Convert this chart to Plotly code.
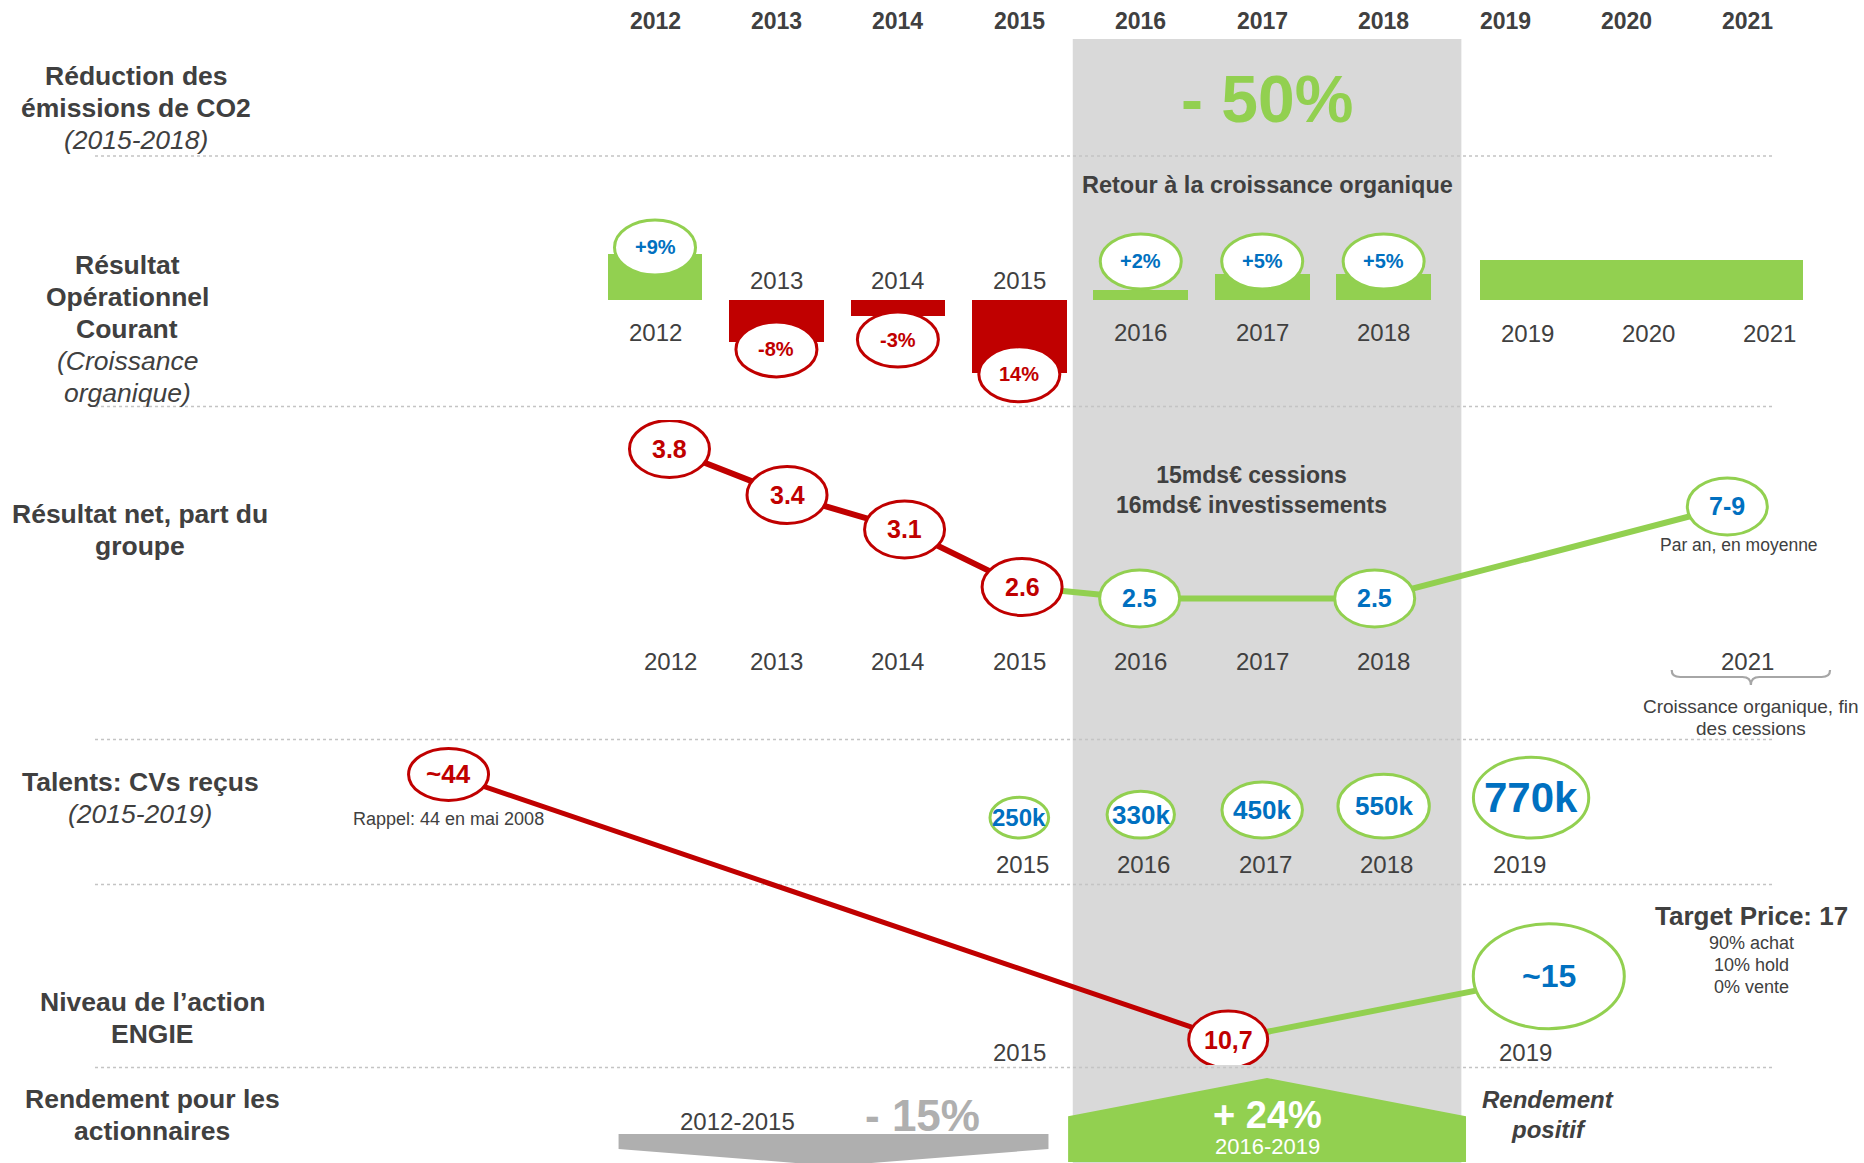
import math
import plotly.graph_objects as go

# ------------------------------------------------------------------ data
HEADER_YEARS = [2012, 2013, 2014, 2015, 2016, 2017, 2018, 2019, 2020, 2021]

CO2_REDUCTION_LABEL = "- 50%"
CO2_NOTE = "Retour à la croissance organique"

ROC_YEARS = [2012, 2013, 2014, 2015, 2016, 2017, 2018]
ROC_GROWTH = [9, -8, -3, -14, 2, 5, 5]
ROC_LABELS = ["+9%", "-8%", "-3%", "14%", "+2%", "+5%", "+5%"]
ROC_OUTLOOK_YEARS = [2019, 2020, 2021]
ROC_OUTLOOK_GROWTH = 7.7

NET_YEARS = [2012, 2013, 2014, 2015, 2016, 2018, 2021]
NET_VALUES = [3.8, 3.4, 3.1, 2.6, 2.5, 2.5, 3.3]      # "7-9" is drawn at the 3.3 level in the original
NET_LABELS = ["3.8", "3.4", "3.1", "2.6", "2.5", "2.5", "7-9"]
NET_AXIS_YEARS = [2012, 2013, 2014, 2015, 2016, 2017, 2018, 2021]
NET_NOTE = ["15mds€ cessions", "16mds€ investissements"]

TALENT_YEARS = [2015, 2016, 2017, 2018, 2019]
TALENT_CVS_K = [250, 330, 450, 550, 770]

STOCK_X = [2010.3, 2016.72, 2019.36]
STOCK_PRICE = [44, 10.7, 15]
STOCK_LABELS = ["~44", "10,7", "~15"]
STOCK_AXIS_YEARS = [2015, 2019]
TARGET_PRICE = 17
ANALYST_SPLIT = ["90% achat", "10% hold", "0% vente"]

RETURN_PERIODS = ["2012-2015", "2016-2019"]
RETURN_LABELS = ["- 15%", "+ 24%"]

ROW_TITLES = [
    # (center x px, first line y px, lines)  -- lines: (text, bold, italic)
    (136, 76, [("Réduction des", 1, 0), ("émissions de CO2", 1, 0), ("(2015-2018)", 0, 1)]),
    (127, 265, [("Résultat", 1, 0), ("Opérationnel", 1, 0), ("Courant", 1, 0),
                ("(Croissance", 0, 1), ("organique)", 0, 1)]),
    (140, 514, [("Résultat net, part du", 1, 0), ("groupe", 1, 0)]),
    (140, 782, [("Talents: CVs reçus", 1, 0), ("(2015-2019)", 0, 1)]),
    (152, 1002, [("Niveau de l’action", 1, 0), ("ENGIE", 1, 0)]),
    (152, 1099, [("Rendement pour les", 1, 0), ("actionnaires", 1, 0)]),
]

# ------------------------------------------------------------------ layout constants
W, H = 1864, 1163
FONT = "Liberation Sans, Arial, Helvetica, sans-serif"
DARK = "#404040"
GREEN = "#92D050"
RED = "#C00000"
BLUE = "#0070C0"
BAND = "#D9D9D9"
GREY = "#AFAFAF"

X_RANGE = [2006.6064, 2021.9555]          # shared year axis
X2_RANGE = [2006.304, 2022.163]           # year axis of the net-result line
BAND_SPAN = (2015.44, 2018.64)            # highlighted 2016-2018 period
RETURN_SPANS = [(2011.70, 2015.24), (2015.41, 2018.67)]
STOCK_LOG_RANGE = [0.97037, 1.71157]


def py(p):
    return 1 - p / H


def pxp(p):
    return p / W


annotations = []
shapes = []


def text(x, y, s, size, color=DARK, bold=False, italic=False, xref="paper", yref="paper", **kw):
    if bold:
        s = f"<b>{s}</b>"
    if italic:
        s = f"<i>{s}</i>"
    d = dict(x=x, y=y, xref=xref, yref=yref, text=s, showarrow=False,
             font=dict(family=FONT, size=size, color=color),
             xanchor="center", yanchor="middle")
    d.update(kw)
    annotations.append(d)


def ellipse(x, y, w, h, color, xref, yref, y0=None, lw=3, dx=0):
    if y0 is None:
        y0 = -h / 2
    shapes.append(dict(type="circle", xref=xref, yref=yref,
                       xsizemode="pixel", ysizemode="pixel",
                       xanchor=x, yanchor=y, x0=dx - w / 2, x1=dx + w / 2, y0=y0, y1=y0 + h,
                       fillcolor="white", line=dict(color=color, width=lw), layer="above"))


fig = go.Figure()

# ------------------------------------------------------------------ background band and separators
shapes.append(dict(type="rect", xref="x", yref="paper", x0=BAND_SPAN[0], x1=BAND_SPAN[1],
                   y0=0, y1=py(39), fillcolor=BAND, line=dict(width=0), layer="below"))
for sep in [156, 406.5, 739.5, 884.5, 1067.5]:
    shapes.append(dict(type="line", xref="paper", yref="paper", x0=pxp(95), x1=pxp(1772),
                       y0=py(sep), y1=py(sep), line=dict(color="#C4C4C4", width=1.3, dash="dot"),
                       layer="below"))

# ------------------------------------------------------------------ header years
for yr in HEADER_YEARS:
    text(yr, py(21), str(yr), 23, bold=True, xref="x")

# ------------------------------------------------------------------ row titles
for cx, y0, lines in ROW_TITLES:
    for i, (s, b, it) in enumerate(lines):
        text(pxp(cx), py(y0 + 32.1 * i), s, 26.5, bold=bool(b), italic=bool(it))

# ------------------------------------------------------------------ CO2 row
band_mid = (BAND_SPAN[0] + BAND_SPAN[1]) / 2
text(band_mid, py(99), CO2_REDUCTION_LABEL, 66, color=GREEN, bold=True, xref="x")

# ------------------------------------------------------------------ ROC row (bars)
text(band_mid, py(185), CO2_NOTE, 23.5, bold=True, xref="x")
fig.add_trace(go.Bar(
    x=ROC_YEARS, y=ROC_GROWTH, width=0.78,
    marker=dict(color=[GREEN if g > 0 else RED for g in ROC_GROWTH], line=dict(width=0)),
    xaxis="x", yaxis="y", hoverinfo="skip", showlegend=False))
fig.add_trace(go.Bar(
    x=[sum(ROC_OUTLOOK_YEARS) / len(ROC_OUTLOOK_YEARS)], y=[ROC_OUTLOOK_GROWTH],
    width=2.66, offset=-1.21,
    marker=dict(color=GREEN, line=dict(width=0)),
    xaxis="x", yaxis="y", hoverinfo="skip", showlegend=False))
for yr, g, lab in zip(ROC_YEARS, ROC_GROWTH, ROC_LABELS):
    sign = 1 if g > 0 else -1
    anchor = sign * max(0.8 * abs(g) + 3, 7.5)
    ellipse(yr, anchor, 81, 55, GREEN if g > 0 else RED, "x", "y")
    text(yr, anchor, lab, 20, color=BLUE if g > 0 else RED, bold=True, xref="x", yref="y")
    text(yr, 0, str(yr), 24, xref="x", yref="y", yshift=-32 if g > 0 else 20)
for yr in ROC_OUTLOOK_YEARS:
    text(yr, 0, str(yr), 24, xref="x", yref="y", yshift=-33, xshift=22)

# ------------------------------------------------------------------ net result row
n_red = NET_YEARS.index(2015) + 1
fig.add_trace(go.Scatter(x=NET_YEARS[:n_red], y=NET_VALUES[:n_red], mode="lines",
                         line=dict(color=RED, width=6), xaxis="x2", yaxis="y2",
                         hoverinfo="skip", showlegend=False))
fig.add_trace(go.Scatter(x=NET_YEARS[n_red - 1:], y=NET_VALUES[n_red - 1:], mode="lines",
                         line=dict(color=GREEN, width=6), xaxis="x2", yaxis="y2",
                         hoverinfo="skip", showlegend=False))
for i, (yr, v, lab) in enumerate(zip(NET_YEARS, NET_VALUES, NET_LABELS)):
    past = i < n_red
    ellipse(yr, v, 80, 57, RED if past else GREEN, "x2", "y2")
    text(yr, v, lab, 25, color=RED if past else BLUE, bold=True, xref="x2", yref="y2")
text(NET_YEARS[-1], NET_VALUES[-1], "Par an, en moyenne", 17.5, xref="x2", yref="y2",
     yshift=-39, xshift=12)
text(band_mid - 0.13, py(489.5), "<br>".join(f"<b>{s}</b>" for s in NET_NOTE), 23, xref="x")
for yr in NET_AXIS_YEARS:
    text(yr, py(661), str(yr), 24, xref="x", xshift=15 if yr == NET_AXIS_YEARS[0] else 0)
# brace under the 2021 label
bx0, bx1 = 2020.372, 2021.676
bm = (bx0 + bx1) / 2
d = 0.07
brace = (f"M {bx0},{py(670)} Q {bx0},{py(677)} {bx0 + d},{py(677)} "
         f"L {bm - d},{py(677)} Q {bm},{py(677)} {bm},{py(685)} "
         f"Q {bm},{py(677)} {bm + d},{py(677)} L {bx1 - d},{py(677)} "
         f"Q {bx1},{py(677)} {bx1},{py(670)}")
shapes.append(dict(type="path", path=brace, xref="x", yref="paper",
                   line=dict(color="#A6A6A6", width=2.2), layer="above"))
text(bm, py(707), "Croissance organique, fin", 19, xref="x")
text(bm, py(728), "des cessions", 19, xref="x")

# ------------------------------------------------------------------ talents row
TAL_BOTTOM = py(838)
tal_font = {250: 24, 330: 26, 450: 26, 550: 26, 770: 42}
for yr, v in zip(TALENT_YEARS, TALENT_CVS_K):
    w = 31.4 + 0.109 * v
    h = 21.4 + 0.077 * v
    shift = 26 if yr == TALENT_YEARS[-1] else 0
    ellipse(yr, TAL_BOTTOM, w, h, GREEN, "x", "paper", y0=0, dx=shift)
    text(yr, TAL_BOTTOM, f"{v}k", tal_font.get(v, 26), color=BLUE, bold=True,
         xref="x", yref="paper", yshift=h / 2, xshift=shift)
    text(yr, py(864), str(yr), 24, xref="x", xshift=14 if shift else 3)

# ------------------------------------------------------------------ share price row (log scale)
fig.add_trace(go.Scatter(x=STOCK_X[:2], y=STOCK_PRICE[:2], mode="lines",
                         line=dict(color=RED, width=5), xaxis="x", yaxis="y3",
                         hoverinfo="skip", showlegend=False))
fig.add_trace(go.Scatter(x=STOCK_X[1:], y=STOCK_PRICE[1:], mode="lines",
                         line=dict(color=GREEN, width=6), xaxis="x", yaxis="y3",
                         hoverinfo="skip", showlegend=False))
# y4 is a linear twin of the log axis y3 (same domain, range in log10 units) used for the
# pixel-sized ellipses and their labels
stock_style = [(80, 52, RED, RED, 26), (79, 57, RED, RED, 25), (151, 105, GREEN, BLUE, 32)]
for x, v, lab, (w, h, lc, tc, fs) in zip(STOCK_X, STOCK_PRICE, STOCK_LABELS, stock_style):
    lv = math.log10(v)
    ellipse(x, lv, w, h, lc, "x", "y4")
    text(x, lv, lab, fs, color=tc, bold=True, xref="x", yref="y4")
text(STOCK_X[0], math.log10(STOCK_PRICE[0]), "Rappel: 44 en mai 2008", 18,
     xref="x", yref="y4", yshift=-45)
for yr, xs in zip(STOCK_AXIS_YEARS, [0, 20]):
    text(yr, py(1052), str(yr), 24, xref="x", xshift=xs)
text(pxp(1751), py(916), f"Target Price: {TARGET_PRICE}", 26, bold=True)
for i, s in enumerate(ANALYST_SPLIT):
    text(pxp(1751), py(943 + 22 * i), s, 18)

# ------------------------------------------------------------------ shareholder return row
(g0, g1), (p0, p1) = RETURN_SPANS
gm = (g0 + g1) / 2
arrow = (f"M {g0},{py(1134)} L {g1},{py(1134)} L {g1},{py(1149)} "
         f"L {gm},{py(1166)} L {g0},{py(1149)} Z")
shapes.append(dict(type="path", path=arrow, xref="x", yref="paper",
                   fillcolor=GREY, line=dict(width=0), layer="below"))
pm = (p0 + p1) / 2
penta = (f"M {p0},{py(1161)} L {p0},{py(1117)} L {pm},{py(1079)} "
         f"L {p1},{py(1117)} L {p1},{py(1161)} Z")
shapes.append(dict(type="path", path=penta, xref="x", yref="paper",
                   fillcolor=GREEN, line=dict(color=GREEN, width=2), layer="below"))
text(2012.68, py(1121), RETURN_PERIODS[0], 24, xref="x")
text(2014.205, py(1115), RETURN_LABELS[0], 44, color=GREY, bold=True, xref="x")
text(pm, py(1115), RETURN_LABELS[1], 38, color="white", bold=True, xref="x")
text(pm, py(1146), RETURN_PERIODS[1], 22, color="white", xref="x")
text(pxp(1548), py(1099), "Rendement", 24, bold=True, italic=True)
text(pxp(1548), py(1129), "positif", 24, bold=True, italic=True)

# ------------------------------------------------------------------ axes / layout
hidden = dict(visible=False, showgrid=False, zeroline=False, fixedrange=True)
fig.update_layout(
    width=W, height=H,
    margin=dict(l=0, r=0, t=0, b=0),
    paper_bgcolor="white", plot_bgcolor="rgba(0,0,0,0)",
    barmode="overlay", bargap=0, showlegend=False, hovermode=False,
    font=dict(family=FONT, color=DARK),
    xaxis=dict(domain=[0, 1], range=X_RANGE, anchor="y", **hidden),
    xaxis2=dict(domain=[0, 1], range=X2_RANGE, anchor="y2", **hidden),
    yaxis=dict(domain=[py(420), py(180)], range=[-22.98, 23.17], anchor="x", **hidden),
    yaxis2=dict(domain=[py(720), py(420)], range=[1.4433, 4.052], anchor="x2", **hidden),
    yaxis3=dict(domain=[py(1065), py(745)], type="log", range=STOCK_LOG_RANGE, anchor="x", **hidden),
    yaxis4=dict(domain=[py(1065), py(745)], range=STOCK_LOG_RANGE, anchor="x",
                overlaying="y3", **hidden),
    shapes=shapes,
    annotations=annotations,
)

fig.write_html(
    "out.html",
    config={"displayModeBar": False},
    post_script="document.body.style.margin='0';document.body.style.overflow='hidden';",
)
